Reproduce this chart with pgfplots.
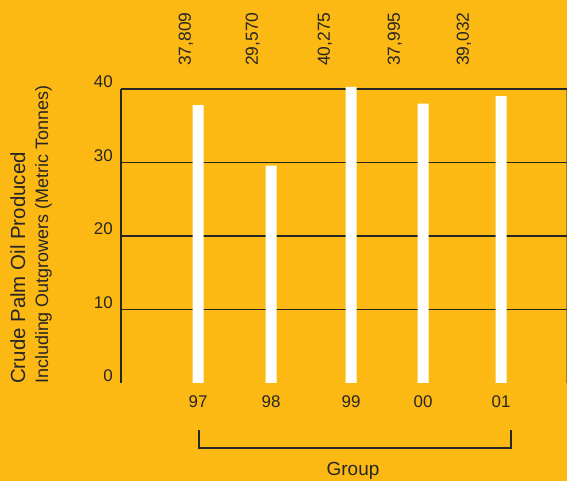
\documentclass[border=0pt]{standalone}
\usepackage{fontspec}
\setmainfont{Liberation Sans}
\usepackage{pgfplots}
\usepackage{pgfplotstable}
\pgfplotsset{compat=1.18}

\definecolor{palmbg}{RGB}{253,185,19}
\definecolor{ink}{RGB}{38,38,38}
\definecolor{edge}{RGB}{170,125,25}

% Crude palm oil produced, thousand metric tonnes, by year
% pos: bar position, val: value, lx: position of the printed value
\pgfplotstableread{
pos val    lx  lab
198 37.809 186 37,809
271 29.570 253 29,570
351 40.275 325 40,275
423 37.995 395 37,995
501 39.032 464 39,032
}\cpodata

\begin{document}
\begin{tikzpicture}[x=1bp,y=1bp]
\fill[palmbg] (0,0) rectangle (567,481);
\useasboundingbox (0,0) rectangle (567,481);
\draw[edge, line width=0.8bp] (566.5,98) -- (566.5,392);
\begin{axis}[
  at={(121bp,98bp)}, anchor=south west,
  scale only axis, width=446bp, height=294bp,
  xmin=121, xmax=567, ymin=0, ymax=40,
  clip=false,
  axis lines*=left,
  x axis line style={draw=none},
  y axis line style={ink, line width=1.6bp},
  ytick={10,20,30,40},
  extra y ticks={0},
  extra y tick style={grid=none},
  ymajorgrids=true,
  major grid style={ink, line width=1.6bp},
  major tick length=0pt,
  xtick={198,271,351,423,501},
  xticklabels={\raisebox{-3bp}{97},98,\raisebox{-3bp}{99},00,01},
  tick label style={font=\fontsize{17}{17}\selectfont, text=ink},
  yticklabel style={anchor=east, inner sep=0pt, xshift=-8bp, yshift=7bp},
  xticklabel style={anchor=center, inner sep=0pt, yshift=-19bp},
  /pgf/number format/assume math mode=true,
]
\addplot[ybar, bar width=11bp, fill=white, draw=none] table[x=pos, y=val] {\cpodata};
\addplot[draw=none, mark=none, nodes near coords, point meta=explicit symbolic,
  nodes near coords style={rotate=90, anchor=west, inner sep=0pt,
    font=\fontsize{17.5}{17.5}\selectfont, text=ink}]
  table[x=lx, y expr=43.13, meta=lab] {\cpodata};
\end{axis}
% two-line y axis title
\node[rotate=90, anchor=base west, inner sep=0pt, text=ink,
  font=\fontsize{20.5}{20.5}\selectfont] at (25,97) {Crude Palm Oil Produced};
\node[rotate=90, anchor=base west, inner sep=0pt, text=ink,
  font=\fontsize{18}{18}\selectfont] at (48,97) {Including Outgrowers (Metric Tonnes)};
% bracket grouping the years
\draw[ink, line width=1.5bp] (199,51) -- (199,33) -- (511,33) -- (511,51);
\node[anchor=base, inner sep=0pt, text=ink, font=\fontsize{19}{19}\selectfont]
  at (353,5) {Group};
\end{tikzpicture}
\end{document}
